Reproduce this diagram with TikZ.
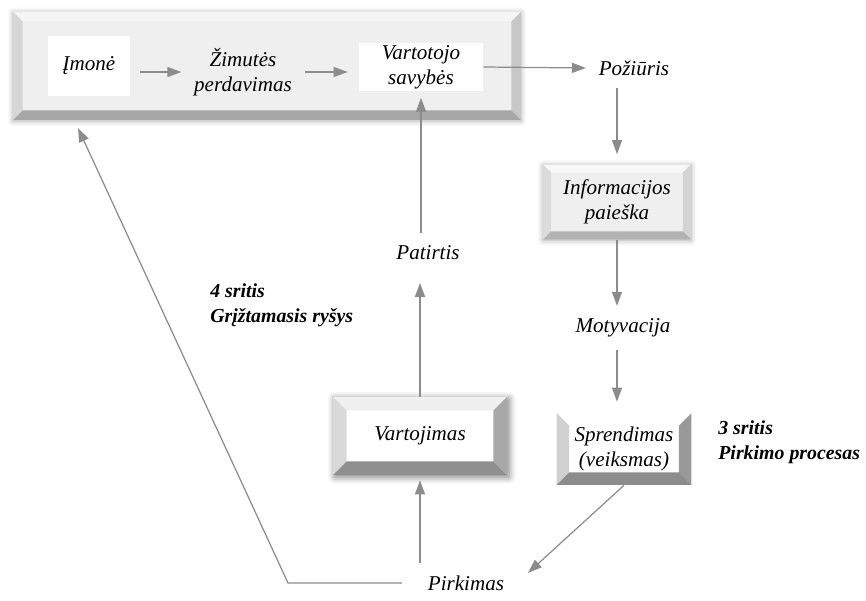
\documentclass[tikz,border=0pt]{standalone}
\usepackage{fontspec}
\setmainfont{Liberation Serif}
\usetikzlibrary{arrows.meta,shadows.blur}
\definecolor{arrowgray}{HTML}{8C8C8C}
\definecolor{facegray}{HTML}{EFEFEF}
\tikzset{
  txt/.style={font=\fontsize{12}{14.2}\selectfont\itshape, align=center, inner sep=0.25cm},
  note/.style={font=\fontsize{11.3}{14.2}\selectfont\bfseries\itshape, align=left, anchor=west, inner sep=0pt},
  flow/.style={draw=arrowgray, line width=0.7pt, -{Triangle[length=0.28cm,width=0.2cm]}},
  whitebox/.style 2 args={txt, fill=white, inner sep=0pt, minimum width=#1, minimum height=#2},
  % width, top, left, right, bottom
  bevel/.style n args={5}{
    path picture={
      \path (path picture bounding box.north west) coordinate (b1)
            (path picture bounding box.north east) coordinate (b2)
            (path picture bounding box.south east) coordinate (b3)
            (path picture bounding box.south west) coordinate (b4);
      \fill[#2] (b1) -- (b2) -- ([shift={(-#1,-#1)}]b2) -- ([shift={(#1,-#1)}]b1) -- cycle;
      \fill[#3] (b1) -- (b4) -- ([shift={(#1,#1)}]b4) -- ([shift={(#1,-#1)}]b1) -- cycle;
      \fill[#4] (b2) -- (b3) -- ([shift={(-#1,#1)}]b3) -- ([shift={(-#1,-#1)}]b2) -- cycle;
      \fill[#5] (b4) -- (b3) -- ([shift={(-#1,#1)}]b3) -- ([shift={(#1,#1)}]b4) -- cycle;
    }
  },
  softglow/.style={blur shadow={shadow xshift=0pt, shadow yshift=-0.5pt, shadow blur radius=3pt, shadow opacity=35}},
}

\begin{document}
\begin{tikzpicture}[x=0.02cm, y=-0.02cm]
\useasboundingbox (0,0) rectangle (866,601);

% top frame
\node[fill=facegray, softglow, minimum width=10.16cm, minimum height=2.16cm, inner sep=0pt,
  bevel={0.19cm}{white!96!black}{white!84!black}{white!78!black}{white!65!black}] (frame) at (267,66) {};
\node[whitebox={1.64cm}{1.22cm}] (imone) at (89,66) {Įmonė};
\node[txt] (zinute) at (243,72) {Žimutės\\perdavimas};
\node[whitebox={2.48cm}{0.98cm}] (vartsav) at (421,67) {Vartotojo\\savybės};
\node[txt] (poziuris) at (634,68) {Požiūris};

% right column
\node[txt, fill=facegray, softglow, minimum width=2.96cm, minimum height=1.5cm, inner sep=0pt,
  bevel={0.16cm}{white!97!black}{white!86!black}{white!83!black}{white!70!black}] (info) at (617,202) {Informacijos\\paieška};
\node[txt] (motyv) at (623,328) {Motyvacija};
\node[txt, fill=white, minimum width=2.7cm, minimum height=1.44cm, inner sep=0pt,
  bevel={0.25cm}{white}{white!82!black}{white!60!black}{white!55!black}] (sprend) at (624,449) {Sprendimas\\(veiksmas)};

% middle column
\node[txt, fill=white, minimum width=3.48cm, minimum height=1.56cm, inner sep=0pt,
  blur shadow={shadow xshift=1pt, shadow yshift=-1pt, shadow blur radius=4pt, shadow opacity=55},
  bevel={0.27cm}{white!94!black}{white!85!black}{white!66!black}{white!56!black}] (vartoj) at (420,436) {Vartojimas};
\node[txt] (patirtis) at (428,253) {Patirtis};
\node[txt] (pirkimas) at (466,583) {Pirkimas};

\node[note] (sritis4) at (210,305) {4 sritis\\Grįžtamasis ryšys};
\node[note] (sritis3) at (718,442) {3 sritis\\Pirkimo procesas};

\coordinate (fbcorner) at (288,586);
\coordinate (fbend) at (78,128);

% arrows
\draw[flow, shorten <=0.2cm] (imone.east |- zinute.west) -- (zinute.west);
\draw[flow, shorten >=0.22cm] (zinute.east) -- (zinute.east -| vartsav.west);
\draw[flow] (vartsav.east) -- (poziuris.west);
\draw[flow, shorten >=0.2cm] (info.north |- poziuris.south) -- (info.north);
\draw[flow] (info.south) -- (info.south |- motyv.north);
\draw[flow, shorten >=0.22cm] (info.south |- motyv.south) -- (info.south |- sprend.north);
\draw[flow, shorten >=0.3cm] (sprend.south) -- (pirkimas.east);
\draw[flow, shorten >=0.1cm] (vartoj.south |- pirkimas.north) -- (vartoj.south);
\draw[flow, shorten >=0.2cm] (vartoj.north) -- (vartoj.north |- patirtis.south);
\draw[flow, shorten >=0.12cm] (vartsav.south |- patirtis.north) -- (vartsav.south);
\draw[flow, shorten <=0.26cm] (pirkimas.west) -- (pirkimas.west -| fbcorner) -- (fbend);

\end{tikzpicture}
\end{document}
